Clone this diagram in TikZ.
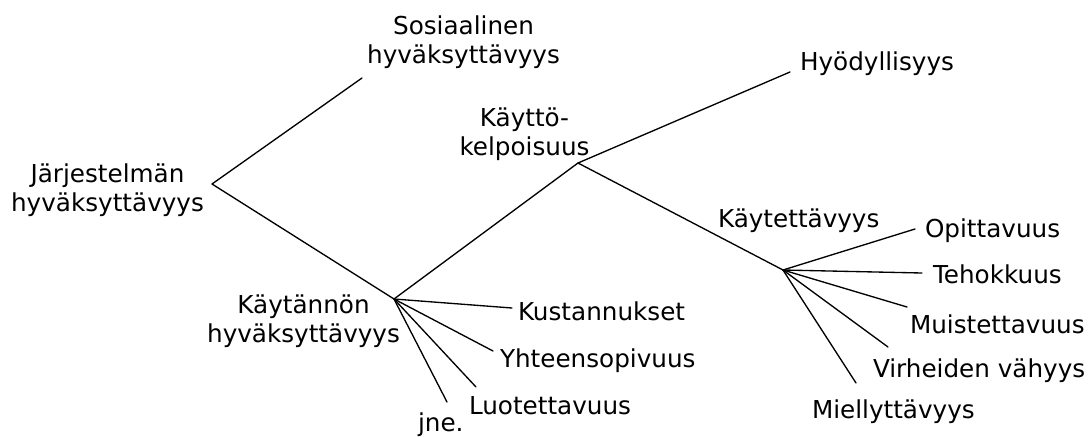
\documentclass[tikz,border=0pt]{standalone}
\usepackage{fontspec}
\setmainfont{DejaVu Sans}
% two centred lines whose first baseline is the node's baseline
\newcommand\twoline[2]{\begin{tabular}[t]{@{}c@{}}#1\\#2\end{tabular}}
\begin{document}
\begin{tikzpicture}[x=0.75pt,y=-0.75pt,
  every node/.style={inner sep=0pt, outer sep=0pt, font=\fontsize{18.5}{21.75}\selectfont},
  leaf/.style={anchor=base west},
  pair/.style={anchor=base},
  branch/.style={line width=1pt, line cap=round, line join=round}]
\useasboundingbox (0,0) rectangle (1092,436);

% labels
\node[pair] (jarj) at (107.5,182) {\twoline{Järjestelmän}{hyväksyttävyys}};
\node[pair] (sos)  at (463.5,34)  {\twoline{Sosiaalinen}{hyväksyttävyys}};
\node[pair] (kayt) at (303.5,313) {\twoline{Käytännön}{hyväksyttävyys}};
\node[pair] (kelp) at (524.5,126) {\twoline{Käyttö-}{kelpoisuus}};
\node[leaf] (hyod) at (800,70)  {Hyödyllisyys};
\node[leaf] (kaet) at (718,227) {Käytettävyys};
\node[leaf] (opit) at (925,237) {Opittavuus};
\node[leaf] (teho) at (933,283) {Tehokkuus};
\node[leaf] (muis) at (910,333) {Muistettavuus};
\node[leaf] (virh) at (873,377) {Virheiden vähyys};
\node[leaf] (miel) at (812,418) {Miellyttävyys};
\node[leaf] (kust) at (518,320) {Kustannukset};
\node[leaf] (yhte) at (500,367) {Yhteensopivuus};
\node[leaf] (luot) at (469,414) {Luotettavuus};
\node[leaf] (jne)  at (418,431) {jne.};

% branching points
\coordinate (j1) at (212,184);
\coordinate (j2) at (394,299);
\coordinate (j3) at (578,163);
\coordinate (j4) at (783,270);

% free ends of the branches
\coordinate (e-sos)  at (362,78);
\coordinate (e-hyod) at (790,72);
\coordinate (e-kust) at (512,308);
\coordinate (e-yhte) at (493,351);
\coordinate (e-luot) at (476,387);
\coordinate (e-jne)  at (447,402);
\coordinate (e-opit) at (915,229);
\coordinate (e-teho) at (922,273);
\coordinate (e-muis) at (907,307);
\coordinate (e-virh) at (888,347);
\coordinate (e-miel) at (856,383);

% branches
\draw[branch] (e-sos) -- (j1) -- (j2) -- (j3) -- (e-hyod);
\draw[branch] (j3) -- (j4);
\foreach \e in {kust,yhte,luot,jne}
  \draw[branch] (j2) -- (e-\e);
\foreach \e in {opit,teho,muis,virh,miel}
  \draw[branch] (j4) -- (e-\e);
\end{tikzpicture}
\end{document}
